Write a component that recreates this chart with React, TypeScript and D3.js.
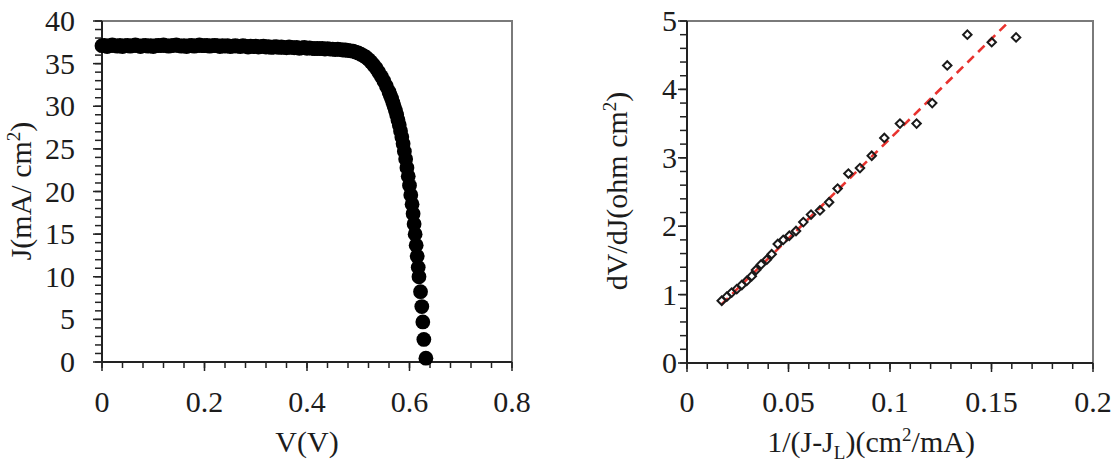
import React from "react"
import * as d3 from "d3"

// J-V sweep of the cell
const voltage = [
  0, 0.005, 0.01, 0.015, 0.02, 0.025, 0.03, 0.035, 0.04, 0.045, 0.05, 0.055, 0.06, 0.065, 0.07, 0.075,
  0.08, 0.085, 0.09, 0.095, 0.1, 0.105, 0.11, 0.115, 0.12, 0.125, 0.13, 0.135, 0.14, 0.145, 0.15, 0.155,
  0.16, 0.165, 0.17, 0.175, 0.18, 0.185, 0.19, 0.195, 0.2, 0.205, 0.21, 0.215, 0.22, 0.225, 0.23, 0.235,
  0.24, 0.245, 0.25, 0.255, 0.26, 0.265, 0.27, 0.275, 0.28, 0.285, 0.29, 0.295, 0.3, 0.305, 0.31, 0.315,
  0.32, 0.325, 0.33, 0.335, 0.34, 0.345, 0.35, 0.355, 0.36, 0.365, 0.37, 0.375, 0.38, 0.385, 0.39, 0.395,
  0.4, 0.405, 0.41, 0.415, 0.42, 0.425, 0.43, 0.435, 0.44, 0.445, 0.45, 0.455, 0.46, 0.465, 0.47, 0.475,
  0.48, 0.485, 0.49, 0.495, 0.5, 0.505, 0.51, 0.515, 0.52, 0.525, 0.53, 0.535, 0.54, 0.545, 0.55, 0.555,
  0.56, 0.5625, 0.565, 0.5675, 0.57, 0.5725, 0.575, 0.5775, 0.58, 0.5825, 0.585, 0.5875, 0.59, 0.5925,
  0.595, 0.5975, 0.6, 0.6025, 0.605, 0.607, 0.609, 0.611, 0.613, 0.615, 0.617, 0.6185, 0.6215, 0.624,
  0.626, 0.628, 0.632,
]
const current = [
  37.1, 37.15, 37.0, 37.1, 37.2, 37.1, 37.05, 37.15, 37.0, 37.1, 37.15, 37.05, 37.1, 37.2, 37.1, 37.0,
  37.1, 37.15, 37.05, 37.1, 37.0, 37.1, 37.15, 37.1, 37.2, 37.1, 37.05, 37.1, 37.15, 37.2, 37.1, 37.05,
  37.1, 37.0, 37.1, 37.15, 37.05, 37.1, 37.2, 37.1, 37.1, 37.15, 37.05, 37.1, 37.15, 37.1, 37.0, 37.1,
  37.05, 37.1, 37.0, 37.05, 37.1, 37.05, 37.0, 37.1, 37.05, 36.95, 37.05, 37.0, 37.05, 36.95, 37.0, 37.05,
  36.95, 37.0, 36.9, 36.95, 37.0, 36.9, 36.95, 36.9, 36.85, 36.95, 36.9, 36.85, 36.9, 36.8, 36.85, 36.9,
  36.8, 36.85, 36.8, 36.75, 36.8, 36.75, 36.8, 36.7, 36.75, 36.7, 36.7, 36.65, 36.7, 36.65, 36.6, 36.6,
  36.55, 36.5, 36.45, 36.35, 36.25, 36.1, 35.95, 35.75, 35.5, 35.2, 34.85, 34.45, 34.0, 33.5, 32.95, 32.35,
  31.7, 31.3, 30.9, 30.45, 30.0, 29.5, 29.0, 28.4, 27.8, 27.1, 26.4, 25.6, 24.7, 23.8,
  22.8, 21.8, 20.7, 19.6, 18.5, 17.4, 16.2, 15.0, 13.7, 12.4, 11.1, 10.0, 8.25, 6.5,
  4.7, 2.65, 0.45,
]

// dV/dJ against 1/(J-JL)
const invCurrent = [
  0.0171, 0.0196, 0.022, 0.0245, 0.027, 0.0294, 0.0319, 0.034, 0.0365, 0.0393, 0.0417, 0.0447,
  0.0474, 0.0504, 0.0537, 0.0573, 0.0611, 0.0655, 0.07, 0.0742, 0.0795, 0.0852, 0.091, 0.0972,
  0.1049, 0.1131, 0.1208, 0.1282, 0.1381, 0.1501, 0.1621,
]
const dVdJ = [
  0.91, 0.97, 1.03, 1.08, 1.14, 1.2, 1.27, 1.36, 1.44, 1.51, 1.59, 1.74,
  1.8, 1.86, 1.93, 2.06, 2.17, 2.23, 2.35, 2.55, 2.77, 2.85, 3.03, 3.29,
  3.5, 3.5, 3.8, 4.35, 4.8, 4.69, 4.76,
]
// linear fit ends
const fitX = [0.017, 0.1589]
const fitY = [0.856, 5.0]

const jvXTicks = [0, 0.2, 0.4, 0.6, 0.8]
const jvYTicks = [0, 5, 10, 15, 20, 25, 30, 35, 40]
const rsXTicks = [0, 0.05, 0.1, 0.15, 0.2]
const rsYTicks = [0, 1, 2, 3, 4, 5]

const FONT = "Liberation Serif, Times New Roman, Times, serif"
const TEXT = "#1c1c1c"
const txt = { fontFamily: FONT }

type FrameProps = {
  x: d3.ScaleLinear<number, number>
  y: d3.ScaleLinear<number, number>
  xTicks: number[]
  yTicks: number[]
  xMinor: number
  yMinor: number
  yLabelX: number
}

const Frame = ({ x, y, xTicks, yTicks, xMinor, yMinor, yLabelX }: FrameProps) => {
  const [x0, x1] = x.range()
  const [y0, y1] = y.range()
  const [dx0, dx1] = x.domain()
  const [dy0, dy1] = y.domain()
  const xm = d3.range(Math.round((dx1 - dx0) / xMinor) + 1).map((i) => dx0 + i * xMinor)
  const ym = d3.range(Math.round((dy1 - dy0) / yMinor) + 1).map((i) => dy0 + i * yMinor)
  return (
    <g>
      <path d={`M${x0},${y1}H${x1}V${y0}`} fill="none" stroke="#7a7a7a" strokeWidth={2} />
      {xm.map((v, i) => (
        <line key={"xm" + i} x1={x(v)} x2={x(v)} y1={y0} y2={y0 + 6} stroke="#222" strokeWidth={1.5} />
      ))}
      {xTicks.map((v) => (
        <line key={"xt" + v} x1={x(v)} x2={x(v)} y1={y0} y2={y0 + 9} stroke="#222" strokeWidth={1.5} />
      ))}
      {ym.map((v, i) => (
        <line key={"ym" + i} x1={x0 - 7} x2={x0} y1={y(v)} y2={y(v)} stroke="#222" strokeWidth={1.5} />
      ))}
      {yTicks.map((v) => (
        <line key={"yt" + v} x1={x0 - 9} x2={x0} y1={y(v)} y2={y(v)} stroke="#222" strokeWidth={1.5} />
      ))}
      <path d={`M${x0},${y1}V${y0}H${x1}`} fill="none" stroke="#222" strokeWidth={2} />
      {xTicks.map((v) => (
        <text key={"xl" + v} x={x(v)} y={412} textAnchor="middle" fontSize={30} fill={TEXT} style={txt}>
          {String(v)}
        </text>
      ))}
      {yTicks.map((v) => (
        <text key={"yl" + v} x={yLabelX} y={y(v) + 10} textAnchor="end" fontSize={30} fill={TEXT} style={txt}>
          {String(v)}
        </text>
      ))}
    </g>
  )
}

const App = () => {
  const jvX = d3.scaleLinear().domain([0, 0.8]).range([102, 512])
  const jvY = d3.scaleLinear().domain([0, 40]).range([362, 21])
  const rsX = d3.scaleLinear().domain([0, 0.2]).range([687, 1093])
  const rsY = d3.scaleLinear().domain([0, 5]).range([363, 21])

  const fitLine = d3
    .line<number>()
    .x((d) => rsX(fitX[d]))
    .y((d) => rsY(fitY[d]))

  const diamond = d3.symbol().type(d3.symbolSquare).size(36)()

  return (
    <svg
      width={1116}
      height={469}
      style={{ position: "absolute", left: 0, top: 0, background: "#fff" }}
    >
      <Frame x={jvX} y={jvY} xTicks={jvXTicks} yTicks={jvYTicks} xMinor={0.04} yMinor={1} yLabelX={75} />
      <g fill="#000">
        {voltage.map((v, i) => (
          <circle key={i} cx={jvX(v)} cy={jvY(current[i])} r={7.4} />
        ))}
      </g>
      <text x={307} y={452} textAnchor="middle" fontSize={30} fill={TEXT} style={txt}>
        V(V)
      </text>
      <text transform="translate(31,191) rotate(-90)" textAnchor="middle" fontSize={30} fill={TEXT} style={txt}>
        J(mA/ cm<tspan dy={-11} fontSize={19}>2</tspan>
        <tspan dy={11}>)</tspan>
      </text>

      <Frame x={rsX} y={rsY} xTicks={rsXTicks} yTicks={rsYTicks} xMinor={0.01} yMinor={0.2} yLabelX={677} />
      <path
        d={fitLine([0, 1]) ?? ""}
        fill="none"
        stroke="#e8322e"
        strokeWidth={2.6}
        strokeDasharray="9,6"
      />
      <g fill="none" stroke="#1a1a1a" strokeWidth={2}>
        {invCurrent.map((v, i) => (
          <path key={i} d={diamond ?? ""} transform={`translate(${rsX(v)},${rsY(dVdJ[i])}) rotate(45)`} />
        ))}
      </g>
      <text x={871} y={452} fontSize={30} textAnchor="middle" fill={TEXT} style={txt}>
        1/(J-J<tspan dy={7} fontSize={19}>L</tspan>
        <tspan dy={-7}>)(cm</tspan>
        <tspan dy={-11} fontSize={19}>2</tspan>
        <tspan dy={11}>/mA)</tspan>
      </text>
      <text transform="translate(627,191) rotate(-90)" textAnchor="middle" fontSize={30} fill={TEXT} style={txt}>
        dV/dJ(ohm cm<tspan dy={-11} fontSize={19}>2</tspan>
        <tspan dy={11}>)</tspan>
      </text>
    </svg>
  )
}

export default App
